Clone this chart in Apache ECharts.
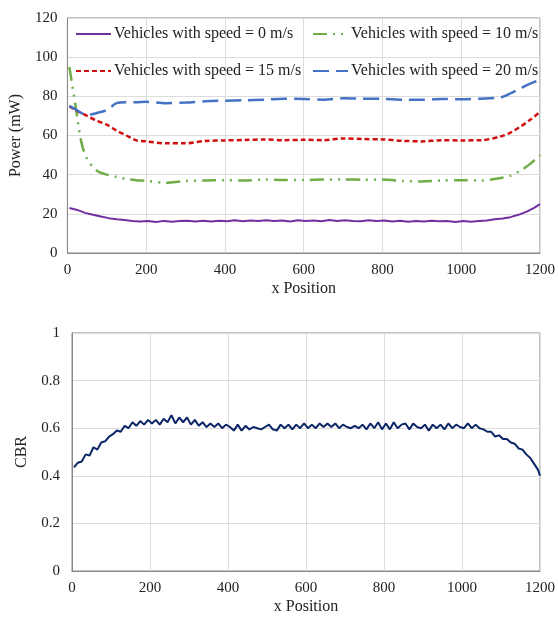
<!DOCTYPE html>
<html>
<head>
<meta charset="utf-8">
<script src="https://cdn.jsdelivr.net/npm/echarts@6/dist/echarts.min.js"></script>
<style>
  html, body { margin: 0; padding: 0; background: #fff; }
  #chart { width: 558px; height: 628px; }
</style>
</head>
<body>
<div id="chart"></div>
<script>
// x positions shared by the three dashed series
let xPos = [5, 20, 35, 50, 75, 100, 125, 150, 175, 200, 250, 300, 350, 400, 450, 500, 550, 600,
    650, 700, 750, 800, 850, 900, 950, 1000, 1050, 1100, 1125, 1150, 1175, 1200];
let speed10 = [95, 76, 57, 48, 42, 40, 38.8, 37.8, 37.2, 36.8, 35.8, 36.8, 37, 37.2, 37, 37.5, 37.3, 37.3,
    37.5, 37.6, 37.4, 37.5, 36.8, 36.5, 37, 37.2, 37, 38.3, 39.5, 42, 45.5, 50];
let speed15 = [75, 73, 71.5, 70, 67.5, 65.5, 62.5, 60, 57.5, 57, 56, 56, 57.2, 57.5, 57.7, 58, 57.6, 57.8,
    57.6, 58.5, 58.2, 58, 57.3, 57, 57.6, 57.5, 57.6, 59.5, 61.5, 64.5, 68, 72];
let speed20 = [75, 73.5, 71.5, 70.5, 71.5, 73, 76.5, 77, 77, 77.2, 76.5, 76.8, 77.5, 77.8, 78, 78.3, 78.8, 78.7,
    78.3, 79, 78.8, 78.7, 78.3, 78.2, 78.6, 78.5, 78.8, 79.5, 81.5, 84, 86.5, 88.5];

// speed 0 is noisy, sampled every 20
let xPos0 = [5, 25, 45, 65, 85, 105, 125, 145, 165, 185, 205, 225, 245, 265, 285, 305, 325, 345, 365, 385,
    405, 425, 445, 465, 485, 505, 525, 545, 565, 585, 605, 625, 645, 665, 685, 705, 725, 745, 765, 785,
    805, 825, 845, 865, 885, 905, 925, 945, 965, 985, 1005, 1025, 1045, 1065, 1085, 1105, 1125, 1145, 1165, 1185, 1200];
let speed0 = [23, 22, 20.5, 19.5, 18.6, 17.8, 17.2, 16.8, 16.3, 16.1, 16.3, 15.8, 16.4, 15.9, 16.3, 16.5, 16.1, 16.5, 16.1, 16.5,
    16.2, 16.7, 16.2, 16.6, 16.3, 16.7, 16.3, 16.6, 16.1, 16.7, 16.3, 16.6, 16.2, 16.8, 16.3, 16.7, 16.4, 16.2, 16.7, 16.3,
    16.6, 16.1, 16.5, 16.0, 16.4, 16.1, 16.5, 16.2, 16.3, 15.8, 16.3, 16.0, 16.4, 16.6, 17.2, 17.6, 18.3, 19.5, 21, 23, 25];

// CBR, sampled every 10
let xCbr = [];
for (let x = 5; x < 1200; x += 10) xCbr.push(x);
xCbr.push(1200);
let cbr = [
    0.435, 0.455, 0.46, 0.49, 0.485, 0.52, 0.51, 0.54, 0.545, 0.565,
    0.575, 0.59, 0.585, 0.61, 0.6, 0.625, 0.61, 0.63, 0.615, 0.635,
    0.62, 0.635, 0.615, 0.64, 0.625, 0.655, 0.62, 0.645, 0.625, 0.645,
    0.615, 0.635, 0.61, 0.625, 0.605, 0.62, 0.605, 0.62, 0.6, 0.615,
    0.605, 0.59, 0.615, 0.59, 0.61, 0.595, 0.605, 0.6, 0.595, 0.605,
    0.615, 0.595, 0.59, 0.615, 0.6, 0.615, 0.595, 0.615, 0.6, 0.62,
    0.6, 0.615, 0.6, 0.62, 0.605, 0.62, 0.605, 0.62, 0.6, 0.615,
    0.605, 0.6, 0.61, 0.6, 0.615, 0.595, 0.62, 0.6, 0.625, 0.595,
    0.62, 0.595, 0.625, 0.6, 0.615, 0.62, 0.595, 0.62, 0.605, 0.6,
    0.615, 0.59, 0.615, 0.6, 0.615, 0.595, 0.62, 0.6, 0.615, 0.605,
    0.6, 0.62, 0.6, 0.615, 0.6, 0.595, 0.585, 0.585, 0.565, 0.57,
    0.555, 0.555, 0.54, 0.535, 0.515, 0.51, 0.49, 0.475, 0.45, 0.425,
    0.40];

function pairs(xs, ys) {
    return xs.map((x, i) => [x, ys[i]]);
}

let font = 'Liberation Serif';
let txt = { fontFamily: font, fontSize: 15, color: '#222', formatter: v => String(v) };

function xAxisFor(idx) {
    return {
        gridIndex: idx, type: 'value', min: 0, max: 1200, interval: 200,
        name: 'x Position', nameLocation: 'middle', nameGap: 28,
        nameTextStyle: { fontFamily: font, fontSize: 16, color: '#222' },
        axisLine: { lineStyle: { color: '#888' } },
        axisTick: { show: false },
        axisLabel: Object.assign({ margin: 10 }, txt),
        splitLine: { lineStyle: { color: '#dcdcdc' } }
    };
}

function legendFor(name, left, top) {
    return {
        data: [name], left: left, top: top, padding: 0, itemWidth: 35, itemHeight: 12,
        itemStyle: { opacity: 0 },
        textStyle: { fontFamily: font, fontSize: 16, color: '#222', padding: [0, 0, 0, -2] }
    };
}

let ctx = document.getElementById('chart');
let chart = echarts.init(ctx);
let option = {
    animation: false,
    legend: [
        legendFor('Vehicles with speed = 0 m/s', 75, 26),
        legendFor('Vehicles with speed = 10 m/s', 312, 26),
        legendFor('Vehicles with speed = 15 m/s', 75, 63),
        legendFor('Vehicles with speed = 20 m/s', 312, 63)
    ],
    grid: [
        { left: 65, right: 17, top: 18, height: 235, show: true, borderColor: '#888', borderWidth: 1 },
        { left: 72, right: 17, top: 333, height: 238, show: true, borderColor: '#888', borderWidth: 1 }
    ],
    xAxis: [xAxisFor(0), xAxisFor(1)],
    yAxis: [
        {
            gridIndex: 0, type: 'value', min: 0, max: 120, interval: 20,
            name: 'Power (mW)', nameLocation: 'middle', nameGap: 38,
            nameTextStyle: { fontFamily: font, fontSize: 16, color: '#222' },
            axisLine: { show: true, lineStyle: { color: '#888' } },
            axisTick: { show: false },
            axisLabel: Object.assign({ margin: 10 }, txt),
            splitLine: { lineStyle: { color: '#dcdcdc' } }
        },
        {
            gridIndex: 1, type: 'value', min: 0, max: 1, interval: 0.2,
            name: 'CBR', nameLocation: 'middle', nameGap: 42,
            nameTextStyle: { fontFamily: font, fontSize: 16, color: '#222' },
            axisLine: { show: true, lineStyle: { color: '#888' } },
            axisTick: { show: false },
            axisLabel: Object.assign({ margin: 12 }, txt),
            splitLine: { lineStyle: { color: '#dcdcdc' } }
        }
    ],
    series: [
        {
            name: 'Vehicles with speed = 0 m/s', type: 'line', symbol: 'none',
            xAxisIndex: 0, yAxisIndex: 0, data: pairs(xPos0, speed0),
            itemStyle: { color: '#7030A0' },
            lineStyle: { color: '#7030A0', width: 2 }
        },
        {
            name: 'Vehicles with speed = 10 m/s', type: 'line', symbol: 'none', smooth: 0.3,
            xAxisIndex: 0, yAxisIndex: 0, data: pairs(xPos, speed10),
            itemStyle: { color: '#70AD47' },
            lineStyle: { color: '#70AD47', width: 2.5, type: [14, 6, 2, 6, 2, 6] }
        },
        {
            name: 'Vehicles with speed = 15 m/s', type: 'line', symbol: 'none', smooth: 0.3,
            xAxisIndex: 0, yAxisIndex: 0, data: pairs(xPos, speed15),
            itemStyle: { color: '#D01010' },
            lineStyle: { color: '#D01010', width: 2.5, type: [5, 3] }
        },
        {
            name: 'Vehicles with speed = 20 m/s', type: 'line', symbol: 'none', smooth: 0.3,
            xAxisIndex: 0, yAxisIndex: 0, data: pairs(xPos, speed20),
            itemStyle: { color: '#4472C4' },
            lineStyle: { color: '#4472C4', width: 2.5, type: [16, 7] }
        },
        {
            name: 'CBR', type: 'line', symbol: 'none',
            xAxisIndex: 1, yAxisIndex: 1, data: pairs(xCbr, cbr),
            lineStyle: { color: '#0B2566', width: 2 }
        }
    ]
};
chart.setOption(option, true);
window.onresize = () => {
    chart.resize();
};
</script>
</body>
</html>
